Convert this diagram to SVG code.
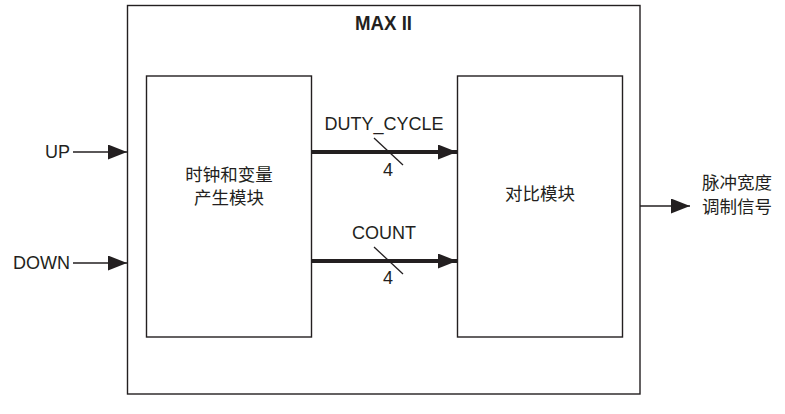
<svg xmlns="http://www.w3.org/2000/svg" width="785" height="414" viewBox="0 0 785 414">
<style>
.box{fill:#fff;stroke:#231f20;stroke-width:1.4}
.t{font-family:"Liberation Sans","Noto Sans CJK SC",sans-serif;font-size:18px;fill:#231f20}
.c{font-family:"Noto Sans CJK SC","Liberation Sans",sans-serif;font-size:17.5px;fill:#231f20}
.w{stroke:#231f20;stroke-width:1.3;fill:none}
.bus{stroke:#231f20;stroke-width:4;fill:none}
</style>
<defs>
<marker id="ah" markerWidth="20" markerHeight="15" refX="19" refY="7.5" orient="auto" markerUnits="userSpaceOnUse">
<path d="M0,0 L19,7.5 L0,15 Z" fill="#231f20"/>
</marker>
</defs>
<g id="maxii">
<rect class="box" x="127.5" y="5.5" width="512.5" height="388.5"/>
<text x="355" y="30" textLength="57" lengthAdjust="spacingAndGlyphs" font-family="Liberation Sans Narrow,Liberation Sans,sans-serif" font-weight="bold" font-size="20" fill="#231f20">MAX II</text>
</g>
<g id="gen">
<rect class="box" x="146.5" y="76" width="165" height="261"/>
<text class="c" x="229" y="181" text-anchor="middle">时钟和变量</text>
<text class="c" x="229" y="204" text-anchor="middle">产生模块</text>
</g>
<g id="cmp">
<rect class="box" x="457.5" y="76" width="165" height="261"/>
<text class="c" x="540" y="200" text-anchor="middle">对比模块</text>
</g>
<g id="connectors">
<line class="w" x1="73" y1="152" x2="127" y2="152" marker-end="url(#ah)"/>
<line class="w" x1="73" y1="263" x2="127" y2="263" marker-end="url(#ah)"/>
<line class="bus" x1="311" y1="152" x2="457" y2="152" marker-end="url(#ah)"/>
<line class="bus" x1="311" y1="261" x2="457" y2="261" marker-end="url(#ah)"/>
<line class="w" x1="374" y1="138" x2="403" y2="165"/>
<line class="w" x1="374" y1="247" x2="403" y2="274"/>
<line class="w" x1="640" y1="206" x2="690" y2="206" marker-end="url(#ah)"/>
</g>
<g id="labels">
<text class="t" x="70" y="158" text-anchor="end">UP</text>
<text class="t" x="70" y="269" text-anchor="end">DOWN</text>
<text class="t" x="384" y="130" text-anchor="middle">DUTY_CYCLE</text>
<text class="t" x="388" y="176" text-anchor="middle">4</text>
<text class="t" x="384" y="239" text-anchor="middle">COUNT</text>
<text class="t" x="388" y="284" text-anchor="middle">4</text>
<text class="c" x="702" y="189">脉冲宽度</text>
<text class="c" x="702" y="213">调制信号</text>
</g>
</svg>
